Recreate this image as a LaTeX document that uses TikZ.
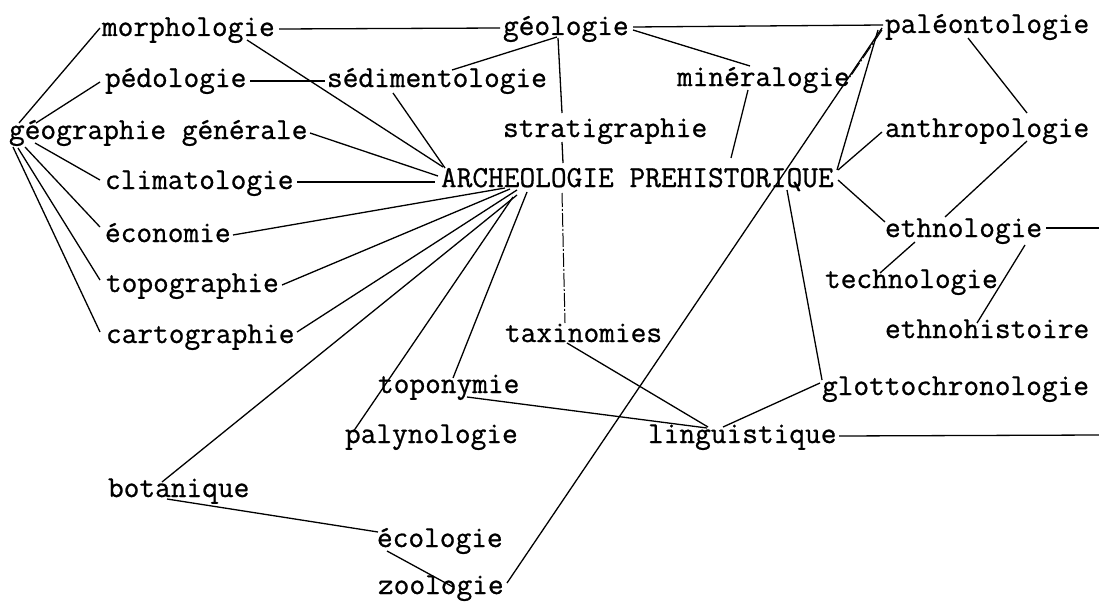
\documentclass[tikz,border=0pt]{standalone}
\usepackage{fontspec}
\newfontfamily\tw{Latin Modern Mono}[FakeBold=0.8]
\begin{document}
\begin{tikzpicture}[x=1pt,y=-1pt,
  lbl/.style={anchor=base west,inner sep=0pt,outer sep=0pt,font=\tw\fontsize{30.5}{36}\selectfont},
  lk/.style={line width=1.3pt,black},
  faint/.style={line width=1pt,black,dash pattern=on 14pt off 2pt on 2pt off 2pt}]
\useasboundingbox[fill=white] (0,0) rectangle (1099,602);
% nodes
\node[lbl] (morph) at (102,36) {morphologie};
\node[lbl] (geol) at (503,35) {géologie};
\node[lbl] (paleo) at (885,33) {paléontologie};
\node[lbl] (pedo) at (105,87) {pédologie};
\node[lbl] (sedi) at (327,87) {sédimentologie};
\node[lbl] (mine) at (677,86) {minéralogie};
\node[lbl] (geog) at (9,139) {géographie générale};
\node[lbl] (strat) at (503,137) {stratigraphie};
\node[lbl] (anthro) at (885,137) {anthropologie};
\node[lbl] (clim) at (105,189) {climatologie};
\node[lbl] (arch) at (441,187) {ARCHEOLOGIE PREHISTORIQUE};
\node[lbl] (econ) at (105,242) {économie};
\node[lbl] (ethno) at (885,237) {ethnologie};
\node[lbl] (topo) at (106,292) {topographie};
\node[lbl] (techno) at (825,288) {technologie};
\node[lbl] (carto) at (106,343) {cartographie};
\node[lbl] (taxi) at (505,342) {taxinomies};
\node[lbl] (ethnoh) at (885,338) {ethnohistoire};
\node[lbl] (topon) at (378,393) {toponymie};
\node[lbl] (glotto) at (822,395) {glottochronologie};
\node[lbl] (palyn) at (345,443) {palynologie};
\node[lbl] (ling) at (648,443) {linguistique};
\node[lbl] (bota) at (108,497) {botanique};
\node[lbl] (ecol) at (377,547) {écologie};
\node[lbl] (zool) at (378,594) {zoologie};
\coordinate (e1) at (1099,228);
\coordinate (e2) at (1099,435);
% connectors
\draw[lk] ([shift={(10,-16)}]geog.base west) -- ([shift={(-2,-8)}]morph.base west);
\draw[lk] ([shift={(27,-16)}]geog.base west) -- ([shift={(-5,-5)}]pedo.base west);
\draw[lk] ([shift={(26,4)}]geog.base west) -- ([shift={(-5,-9)}]clim.base west);
\draw[lk] ([shift={(16,8)}]geog.base west) -- ([shift={(-5,-15)}]econ.base west);
\draw[lk] ([shift={(9,9)}]geog.base west) -- ([shift={(-6,-12)}]topo.base west);
\draw[lk] ([shift={(4,8)}]geog.base west) -- ([shift={(-6,-11)}]carto.base west);
\draw[lk] ([shift={(177,-7)}]morph.base west) -- ([shift={(-3,-7)}]geol.base west);
\draw[lk] ([shift={(145,4)}]morph.base west) -- ([shift={(2,-20)}]arch.base west);
\draw[lk] ([shift={(145,-6)}]pedo.base west) -- ([shift={(-2,-6)}]sedi.base west);
\draw[lk] ([shift={(66,6)}]sedi.base west) -- ([shift={(4,-19)}]arch.base west);
\draw[lk] ([shift={(125,-17)}]sedi.base west) -- ([shift={(54,2)}]geol.base west);
\draw[lk] ([shift={(55,3)}]geol.base west) -- ([shift={(59,-24)}]strat.base west);
\draw[lk] ([shift={(59,5)}]strat.base west) -- ([shift={(122,-24)}]arch.base west);
\draw[faint] ([shift={(121,6)}]arch.base west) -- ([shift={(60,-19)}]taxi.base west);
\draw[lk] ([shift={(130,-8)}]geol.base west) -- ([shift={(-2,-8)}]paleo.base west);
\draw[lk] ([shift={(130,-5)}]geol.base west) -- ([shift={(73,-20)}]mine.base west);
\draw[faint] ([shift={(-3,-3)}]paleo.base west) -- ([shift={(173,-9)}]mine.base west);
\draw[lk] ([shift={(-3,-5)}]paleo.base west) -- ([shift={(129,-11)}]zool.base west);
\draw[lk] ([shift={(-7,-3)}]paleo.base west) -- ([shift={(396,-17)}]arch.base west);
\draw[lk] ([shift={(397,-17)}]arch.base west) -- ([shift={(-3,-5)}]anthro.base west);
\draw[lk] ([shift={(71,4)}]mine.base west) -- ([shift={(290,-29)}]arch.base west);
\draw[lk] ([shift={(83,5)}]paleo.base west) -- ([shift={(142,-24)}]anthro.base west);
\draw[lk] ([shift={(142,4)}]anthro.base west) -- ([shift={(60,-20)}]ethno.base west);
\draw[lk] ([shift={(397,-7)}]arch.base west) -- ([shift={(0,-15)}]ethno.base west);
\draw[lk] ([shift={(30,5)}]ethno.base west) -- ([shift={(55,-15)}]techno.base west);
\draw[lk] ([shift={(140,8)}]ethno.base west) -- ([shift={(92,-15)}]ethnoh.base west);
\draw[lk] ([shift={(161,-9)}]ethno.base west) -- (e1);
\draw[lk] ([shift={(346,3)}]arch.base west) -- ([shift={(0,-15)}]glotto.base west);
\draw[lk] ([shift={(62,1)}]taxi.base west) -- ([shift={(60,-16)}]ling.base west);
\draw[lk] ([shift={(89,4)}]topon.base west) -- ([shift={(59,-15)}]ling.base west);
\draw[lk] ([shift={(75,-16)}]ling.base west) -- ([shift={(-2,-12)}]glotto.base west);
\draw[lk] ([shift={(191,-7)}]ling.base west) -- (e2);
\draw[lk] ([shift={(64,1)}]arch.base west) -- ([shift={(128,-7)}]econ.base west);
\draw[lk] ([shift={(69,2)}]arch.base west) -- ([shift={(176,-7)}]topo.base west);
\draw[lk] ([shift={(76,3)}]arch.base west) -- ([shift={(191,-11)}]carto.base west);
\draw[lk] ([shift={(76,8)}]arch.base west) -- ([shift={(54,-15)}]bota.base west);
\draw[lk] ([shift={(72,10)}]arch.base west) -- ([shift={(8,-11)}]palyn.base west);
\draw[lk] ([shift={(86,5)}]arch.base west) -- ([shift={(75,-15)}]topon.base west);
\draw[lk] ([shift={(301,-6)}]geog.base west) -- ([shift={(-3,-11)}]arch.base west);
\draw[lk] ([shift={(192,-7)}]clim.base west) -- ([shift={(-6,-5)}]arch.base west);
\draw[lk] ([shift={(59,2)}]bota.base west) -- ([shift={(1,-15)}]ecol.base west);
\draw[lk] ([shift={(10,4)}]ecol.base west) -- ([shift={(75,-7)}]zool.base west);
\end{tikzpicture}
\end{document}
